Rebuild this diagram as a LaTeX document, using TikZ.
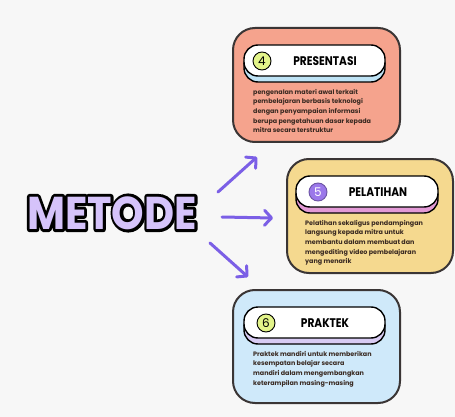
\documentclass[tikz,border=0pt]{standalone}
\usepackage{fontspec}
\setmainfont{Poppins}
\usepackage{graphicx}
\usetikzlibrary{arrows.meta}
\newcommand{\strokedtext}[1]{\special{pdf:code q 1 j 1 J 6 w 0 0 0 RG 0 0 0 rg 2 Tr}#1\special{pdf:code 0 Tr Q}}
\definecolor{bgcol}{HTML}{F7F7F7}
\definecolor{salmon}{HTML}{F5A38D}
\definecolor{sand}{HTML}{F5D98F}
\definecolor{sky}{HTML}{CFE9FA}
\definecolor{edge}{HTML}{3A3535}
\definecolor{shblue}{HTML}{BEE3F5}
\definecolor{shpink}{HTML}{E39AD6}
\definecolor{shlav}{HTML}{D8CBF3}
\definecolor{lime}{HTML}{E3F48A}
\definecolor{violet}{HTML}{9B78EA}
\definecolor{arrowcol}{HTML}{7B5FE6}
\definecolor{metodecol}{HTML}{D5C3FA}
\definecolor{bodytext}{HTML}{3A2A22}
\begin{document}
\begin{tikzpicture}[x=1pt,y=-1pt]
				\tikzstyle{Card} = [rectangle, draw=edge, line width=2pt, rounded corners=22pt, minimum width=167pt, minimum height=114pt, inner sep=0pt]
				\tikzstyle{Pill} = [rectangle, draw=black, line width=1.4pt, rounded corners=14pt, minimum width=141pt, minimum height=31pt, inner sep=0pt]
				\tikzstyle{Num} = [circle, draw=black, line width=0.9pt, minimum size=18pt, inner sep=0pt, font=\fontsize{12}{12}\selectfont]
				\tikzstyle{Head} = [font=\fontsize{12.5}{12.5}\selectfont\bfseries, inner sep=0pt]
				\tikzstyle{Body} = [anchor=north west, align=left, inner sep=0pt, text=bodytext, font=\fontsize{6.4}{9.6}\selectfont\bfseries]
				\tikzstyle{Arrow} = [draw=arrowcol, line width=3pt, line cap=round, -{Straight Barb[length=7pt, width=15pt, round]}]
				\tikzstyle{Big} = [inner sep=0pt, font=\fontsize{46}{46}\selectfont\bfseries]
				\fill[bgcol] (0,0) rectangle (455,417);
				\useasboundingbox (0,0) rectangle (455,417);
				\node (Mo) at (112,213) [Big] {\scalebox{0.9}[1]{\strokedtext{METODE}}};
				\node (M) at (112,213) [Big, text=metodecol] {\scalebox{0.9}[1]{METODE}};
				\node (P) at (316.5,85) [Card, fill=salmon] {};
				\node (L) at (370,216) [Card, fill=sand, minimum width=166pt] {};
				\node (K) at (316.5,346.5) [Card, fill=sky, minimum height=113pt] {};
				\node (Ps) at (314.5,66.5) [Pill, fill=shblue] {};
				\node (Pp) at (314.5,60.5) [Pill, fill=white] {};
				\node (Ls) at (367,197.5) [Pill, fill=shpink, minimum width=142pt] {};
				\node (Lp) at (367,191.5) [Pill, fill=white, minimum width=142pt] {};
				\node (Ks) at (314.5,328.5) [Pill, fill=shlav] {};
				\node (Kp) at (314.5,322.5) [Pill, fill=white] {};
				\node (N4) at (262,61) [Num, fill=lime] {4};
				\node (N5) at (318,192) [Num, fill=violet, draw=violet!70!black, text=white] {5};
				\node (N6) at (266,323) [Num, fill=lime] {6};
				\node (H4) at (325,61) [Head] {\scalebox{0.85}[1]{PRESENTASI}};
				\node (H5) at (378,192) [Head] {\scalebox{0.85}[1]{PELATIHAN}};
				\node (H6) at (325,323) [Head] {\scalebox{0.85}[1]{PRAKTEK}};
				\node (T4) at (253,89) [Body] {pengenalan materi awal terkait\\pembelajaran berbasis teknologi\\dengan penyampaian informasi\\berupa pengetahuan dasar kepada\\mitra secara terstruktur};
				\node (T5) at (305,220) [Body] {Pelatihan sekaligus pendampingan\\langsung kepada mitra untuk\\membantu dalam membuat dan\\mengediting video pembelajaran\\yang menarik};
				\node (T6) at (253,351) [Body] {Praktek mandiri untuk memberikan\\kesempatan belajar secara\\mandiri dalam mengembangkan\\keterampilan masing-masing};
				\coordinate (S1) at (218,192);
				\coordinate (E1) at (257,157);
				\coordinate (S2) at (222,217);
				\coordinate (E2) at (273,218);
				\coordinate (S3) at (210,243);
				\coordinate (E3) at (248,277);
				\draw[Arrow] (S1) to (E1);
				\draw[Arrow] (S2) to (E2);
				\draw[Arrow] (S3) to (E3);
			\end{tikzpicture}
\end{document}
